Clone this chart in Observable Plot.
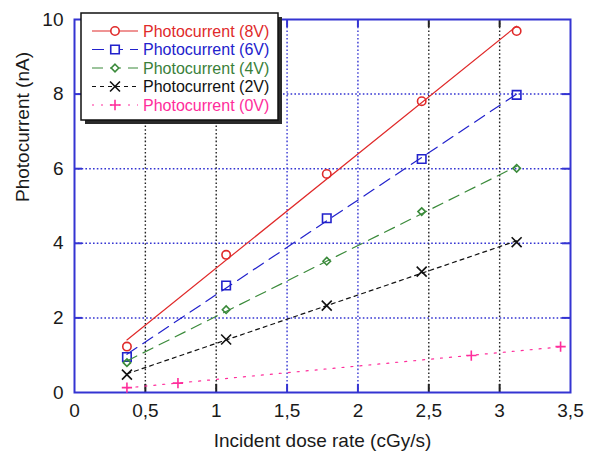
<!DOCTYPE html>
<html><head><meta charset="utf-8">
<script src="https://cdn.jsdelivr.net/npm/d3@7"></script>
<script src="https://cdn.jsdelivr.net/npm/@observablehq/plot@0.6"></script>
<style>body{margin:0;background:#fff;} #chart{width:592px;height:460px;}</style>
</head><body><div id="chart"></div>
<script>
// ---- data ----
const doseRate   = [0.37, 1.07, 1.78, 2.45, 3.12];
const current8V  = [1.23, 3.69, 5.86, 7.81, 9.69];
const current6V  = [0.95, 2.87, 4.67, 6.26, 7.98];
const current4V  = [0.80, 2.22, 3.52, 4.85, 6.01];
const current2V  = [0.48, 1.42, 2.33, 3.24, 4.03];
const doseRate0V = [0.37, 0.73, 2.80, 3.43];
const current0V  = [0.13, 0.25, 0.99, 1.23];
const seriesNames = ["Photocurrent (8V)", "Photocurrent (6V)", "Photocurrent (4V)", "Photocurrent (2V)", "Photocurrent (0V)"];
const xTicks = [0, 0.5, 1, 1.5, 2, 2.5, 3, 3.5];
const yTicks = [0, 2, 4, 6, 8, 10];
const xLabel = "Incident dose rate (cGy/s)";
const yLabel = "Photocurrent (nA)";

// ---- styles ----
const W = 592, H = 460, mL = 74, mR = 22, mT = 19, mB = 68;
const frameBlue = "#3434d2";
const gridBlack = "#222";
const blueGridX = new Set([1.5, 2]);
const styles = [
  {color: "#e02a2a", text: "#e02a2a", dash: null,   symbol: "circle",   r: 4.2},
  {color: "#2222cc", text: "#2222cc", dash: "12,7", symbol: "square",   r: 4.8},
  {color: "#3a8a3a", text: "#3a7f3a", dash: "11,7", symbol: "diamond2", r: 3.4},
  {color: "#111111", text: "#111111", dash: "4,4",  symbol: "times",    r: 4.6},
  {color: "#ff2d9b", text: "#ff2d9b", dash: "2,7",  symbol: "plus",     r: 3.4}
];

const series = [
  doseRate.map((x, i) => ({x, y: current8V[i]})),
  doseRate.map((x, i) => ({x, y: current6V[i]})),
  doseRate.map((x, i) => ({x, y: current4V[i]})),
  doseRate.map((x, i) => ({x, y: current2V[i]})),
  doseRate0V.map((x, i) => ({x, y: current0V[i]}))
];

const fmt = d => String(d).replace(".", ",");
const xInner = xTicks.slice(1, -1);
const yInner = yTicks.slice(1, -1);
const xColor = d => blueGridX.has(d) ? frameBlue : gridBlack;
const tickPx = 8;
const tickY = tickPx / ((H - mT - mB) / (yTicks[yTicks.length - 1] - yTicks[0]));
const tickX = tickPx / ((W - mL - mR) / (xTicks[xTicks.length - 1] - xTicks[0]));

const marks = [
  Plot.ruleY(yInner, {stroke: frameBlue, strokeWidth: 1.5, strokeDasharray: "1.6,2.2"}),
  Plot.ruleX(xInner, {stroke: xColor, strokeWidth: 1.4, strokeDasharray: "1.6,2.2"}),
  Plot.ruleX(xInner, {y1: 0, y2: tickY, stroke: xColor, strokeWidth: 2}),
  Plot.ruleX(xInner, {y1: 10 - tickY, y2: 10, stroke: xColor, strokeWidth: 2}),
  Plot.ruleY(yInner, {x1: 0, x2: tickX, stroke: frameBlue, strokeWidth: 2}),
  Plot.ruleY(yInner, {x1: 3.5 - tickX, x2: 3.5, stroke: frameBlue, strokeWidth: 2}),
  Plot.axisX(xTicks, {tickSize: 0, tickPadding: 11, label: null, tickFormat: fmt}),
  Plot.axisY(yTicks, {tickSize: 0, tickPadding: 11, label: null}),
  Plot.frame({stroke: frameBlue, strokeWidth: 2}),
  Plot.text([xLabel], {text: d => d, frameAnchor: "bottom", dy: 54}),
  Plot.text([yLabel], {text: d => d, frameAnchor: "left", dx: -52, dy: -4, rotate: -90})
];
series.forEach((rows, k) => {
  const s = styles[k];
  marks.push(Plot.linearRegressionY(rows, {x: "x", y: "y", stroke: s.color, strokeWidth: 1.2, strokeDasharray: s.dash, ci: 0}));
  marks.push(Plot.dot(rows, {x: "x", y: "y", symbol: s.symbol, r: s.r, stroke: s.color, strokeWidth: 1.6, fill: "none"}));
});

const chart = Plot.plot({
  width: W, height: H, marginLeft: mL, marginRight: mR, marginTop: mT, marginBottom: mB,
  style: {fontFamily: "'Liberation Sans', Arial, sans-serif", fontSize: "19px", color: "#1a1a1a", background: "#fff", overflow: "visible"},
  x: {domain: [xTicks[0], xTicks[xTicks.length - 1]]},
  y: {domain: [yTicks[0], yTicks[yTicks.length - 1]]},
  marks
});
document.getElementById("chart").appendChild(chart);

// ---- legend (boxed, with drop shadow) ----
const svg = d3.select(chart);
const lg = svg.append("g").attr("font-family", "'Liberation Sans', Arial, sans-serif").attr("font-size", 16).attr("text-anchor", "start");
const bx = 81, by = 13, bw = 197, bh = 107;
lg.append("rect").attr("x", bx + 4).attr("y", by + 4).attr("width", bw).attr("height", bh).attr("fill", "#2a2a2a");
lg.append("rect").attr("x", bx).attr("y", by).attr("width", bw).attr("height", bh).attr("fill", "#fff").attr("stroke", "#111").attr("stroke-width", 1.5);
const symMap = {circle: d3.symbolCircle, square: d3.symbolSquare, diamond2: d3.symbolDiamond2, times: d3.symbolTimes, plus: d3.symbolPlus};
seriesNames.forEach((name, k) => {
  const s = styles[k];
  const yy = 31 + k * 18.5;
  lg.append("line").attr("x1", 92).attr("x2", 138).attr("y1", yy).attr("y2", yy)
    .attr("stroke", s.color).attr("stroke-width", 1.2).attr("stroke-dasharray", s.dash);
  lg.append("path").attr("transform", `translate(115,${yy})`)
    .attr("d", d3.symbol(symMap[s.symbol], Math.PI * s.r * s.r)())
    .attr("fill", "#fff").attr("stroke", s.color).attr("stroke-width", 1.6);
  lg.append("text").attr("x", 143).attr("y", yy).attr("dy", "0.35em").attr("text-anchor", "start").attr("fill", s.text).text(name);
});
</script>
</body></html>
